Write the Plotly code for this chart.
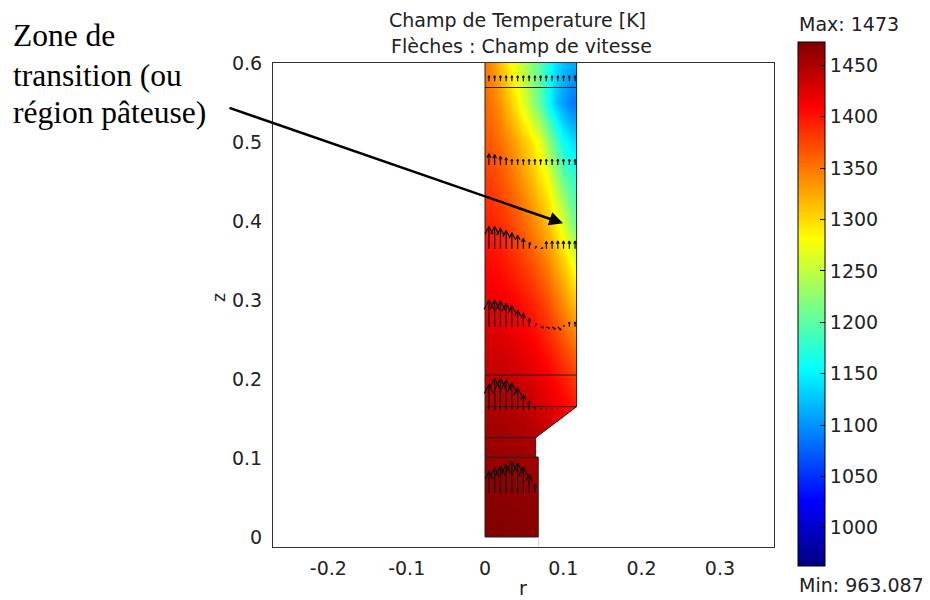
import math
import plotly.graph_objects as go

# ---------------- Temperature field [K] ----------------
r_levels = [0.0, 0.01, 0.02, 0.03, 0.04, 0.05, 0.06, 0.07, 0.08, 0.09, 0.10, 0.11, 0.117]
z_levels = [0.0, 0.05, 0.10, 0.15, 0.20, 0.25, 0.30, 0.35, 0.40, 0.45, 0.50, 0.55, 0.60]
T_z000 = [1473, 1473, 1473, 1472, 1472, 1471, 1470, 1469, 1467, 1465, 1462, 1460, 1458]
T_z005 = [1468, 1468, 1468, 1467, 1466, 1465, 1464, 1462, 1459, 1456, 1452, 1448, 1446]
T_z010 = [1462, 1462, 1461, 1460, 1459, 1457, 1455, 1452, 1448, 1443, 1438, 1433, 1430]
T_z015 = [1453, 1453, 1452, 1451, 1449, 1446, 1442, 1437, 1431, 1424, 1416, 1408, 1403]
T_z020 = [1442, 1441, 1440, 1438, 1435, 1431, 1426, 1420, 1413, 1405, 1396, 1386, 1378]
T_z025 = [1430, 1429, 1427, 1424, 1420, 1415, 1409, 1401, 1392, 1381, 1368, 1354, 1345]
T_z030 = [1418, 1417, 1414, 1410, 1405, 1398, 1390, 1380, 1368, 1353, 1336, 1318, 1306]
T_z035 = [1405, 1403, 1399, 1393, 1386, 1377, 1367, 1355, 1341, 1325, 1306, 1282, 1262]
T_z040 = [1393, 1390, 1385, 1377, 1367, 1355, 1342, 1327, 1310, 1290, 1260, 1222, 1205]
T_z045 = [1380, 1376, 1368, 1358, 1346, 1332, 1316, 1299, 1280, 1245, 1210, 1188, 1180]
T_z050 = [1368, 1362, 1352, 1340, 1326, 1310, 1293, 1270, 1230, 1195, 1160, 1142, 1138]
T_z055 = [1358, 1347, 1332, 1313, 1291, 1265, 1232, 1200, 1160, 1128, 1105, 1090, 1085]
T_z060 = [1350, 1333, 1311, 1290, 1268, 1245, 1222, 1197, 1168, 1142, 1125, 1113, 1110]
temperature = [T_z000, T_z005, T_z010, T_z015, T_z020, T_z025, T_z030,
               T_z035, T_z040, T_z045, T_z050, T_z055, T_z060]
T_min, T_max = 963.087, 1473
cbar_ticks = [1000, 1050, 1100, 1150, 1200, 1250, 1300, 1350, 1400, 1450]

# ---------------- Domain geometry (r, z in m) ----------------
outline_r = [0.0, 0.068, 0.068, 0.0647, 0.0647, 0.117, 0.117]
outline_z = [0.0, 0.0, 0.101, 0.101, 0.1257, 0.165, 0.60]
interface_z = [0.101, 0.1257, 0.165, 0.205, 0.569]
interface_w = [0.068, 0.0647, 0.117, 0.117, 0.117]

# ---------------- Velocity arrows (scaled lengths, m) ----------------
arrow_r = [0.005, 0.0123, 0.0197, 0.027, 0.0343, 0.0417, 0.049, 0.0563,
           0.0637, 0.071, 0.0783, 0.0857, 0.093, 0.1003, 0.1077, 0.115]
row_z = [0.577, 0.471, 0.365, 0.266, 0.161, 0.0557]
uz_row1 = [0.0068, 0.0068, 0.0068, 0.0068, 0.0068, 0.0068, 0.0068, 0.0068,
           0.0068, 0.0068, 0.0068, 0.0068, 0.0068, 0.0068, 0.0068, 0.0068]
uz_row2 = [0.014, 0.013, 0.011, 0.009, 0.007, 0.007, 0.0072, 0.0072,
           0.0072, 0.0072, 0.0072, 0.0072, 0.0072, 0.0072, 0.0072, 0.0072]
uz_row3 = [0.028, 0.028, 0.026, 0.023, 0.020, 0.017, 0.013, 0.008,
           0.003, 0.001, 0.009, 0.0095, 0.0095, 0.0095, 0.0095, 0.0095]
uz_row4 = [0.034, 0.034, 0.033, 0.030, 0.027, 0.021, 0.017, 0.011,
           0.004, -0.001, -0.002, -0.003, -0.004, 0.002, 0.006, 0.006]
uz_row5 = [0.032, 0.040, 0.040, 0.038, 0.034, 0.028, 0.019, 0.011,
           0.004, 0.0015, 0.0012, 0.001, 0.001, 0.0008, None, None]
uz_row6 = [0.027, 0.032, 0.034, 0.036, 0.040, 0.038, 0.033, 0.023,
           0.011, None, None, None, None, None, None, None]
ur_zero = [0.0] * 16
ur_row3 = [0, 0, 0, 0, 0, 0, 0, 0.001, 0.002, 0.003, 0, 0, 0, 0, 0, 0]
ur_row4 = [0, 0, 0, 0, 0, 0, 0, 0, 0.002, 0.004, 0.004, 0.004, 0.004, 0.001, 0, 0]
arrow_rows = [(row_z[0], uz_row1, ur_zero), (row_z[1], uz_row2, ur_zero),
              (row_z[2], uz_row3, ur_row3), (row_z[3], uz_row4, ur_row4),
              (row_z[4], uz_row5, ur_zero), (row_z[5], uz_row6, ur_zero)]

# ---------------- Layout constants ----------------
# the page adds an 8 px body margin, so the figure is drawn 8 px smaller / offset
OFF = 8
W, H = 930 - OFF, 600 - OFF
# plot box in reference-picture pixels
RL, RR, RT, RB = 273, 774, 63, 547
PL, PR, PT, PB = RL - OFF, RR - OFF, RT - OFF, RB - OFF
FONT = "DejaVu Sans"


def px(x_ref):
    return (x_ref - RL) / (RR - RL)


def py(y_ref):
    return (RB - y_ref) / (RB - RT)


fig = go.Figure()

# temperature surface
fig.add_trace(go.Heatmap(
    x=r_levels, y=z_levels, z=temperature, zsmooth="best",
    zmin=T_min, zmax=T_max,
    colorscale=[[0, "rgb(0,0,128)"], [0.125, "rgb(0,0,255)"], [0.375, "rgb(0,255,255)"],
                [0.625, "rgb(255,255,0)"], [0.875, "rgb(255,0,0)"], [1, "rgb(128,0,0)"]],
    colorbar=dict(
        x=px(798), xanchor="left", xpad=0,
        y=py(41.7), yanchor="top", ypad=0,
        len=524, lenmode="pixels", thickness=27, thicknessmode="pixels",
        outlinecolor="black", outlinewidth=1,
        tickvals=cbar_ticks, ticktext=[str(v) for v in cbar_ticks],
        ticks="inside", ticklen=5, tickcolor="black",
        tickfont=dict(family=FONT, size=19, color="#222"),
    ),
    hoverinfo="skip",
))

# white masks outside the computational domain
big = 0.05
mask_right_r = outline_r[1:] + [outline_r[-1], outline_r[-1] + big, outline_r[-1] + big, outline_r[1]]
mask_right_z = outline_z[1:] + [outline_z[-1] + big, outline_z[-1] + big, -big, -big]
fig.add_trace(go.Scatter(x=mask_right_r, y=mask_right_z, fill="toself", fillcolor="white",
                         mode="lines", line=dict(width=0, color="white"), hoverinfo="skip",
                         showlegend=False))
mask_left_r = [-big, outline_r[0], outline_r[0], outline_r[1], outline_r[1], -big]
mask_left_z = [outline_z[-1] + big, outline_z[-1] + big, outline_z[0], outline_z[1], -big, -big]
fig.add_trace(go.Scatter(x=mask_left_r, y=mask_left_z, fill="toself", fillcolor="white",
                         mode="lines", line=dict(width=0, color="white"), hoverinfo="skip",
                         showlegend=False))

# domain outline and internal boundaries
lr, lz = [], []
lr += [outline_r[0]] + outline_r + [None]
lz += [outline_z[-1]] + outline_z + [None]
for zi, wi in zip(interface_z, interface_w):
    lr += [0.0, wi, None]
    lz += [zi, zi, None]
fig.add_trace(go.Scatter(x=lr, y=lz, mode="lines", line=dict(color="#222", width=1),
                         hoverinfo="skip", showlegend=False))

# velocity arrows
HEAD_LEN, HEAD_HALF = 0.35, 0.18
ar, az = [], []
for z0, uz, ur in arrow_rows:
    for r0, w, u in zip(arrow_r, uz, ur):
        if w is None:
            continue
        L = math.hypot(u, w)
        dr, dz = u / L, w / L
        tr, tz = r0 + u, z0 + w
        ar += [r0, tr, None]
        az += [z0, tz, None]
        br, bz = tr - HEAD_LEN * L * dr, tz - HEAD_LEN * L * dz
        nr, nz = -dz, dr
        ar += [br + HEAD_HALF * L * nr, tr, br - HEAD_HALF * L * nr, None]
        az += [bz + HEAD_HALF * L * nz, tz, bz - HEAD_HALF * L * nz, None]
fig.add_trace(go.Scatter(x=ar, y=az, mode="lines", line=dict(color="#111", width=1.25),
                         hoverinfo="skip", showlegend=False))

x_ticks = [-0.2, -0.1, 0, 0.1, 0.2, 0.3]
y_ticks = [0, 0.1, 0.2, 0.3, 0.4, 0.5, 0.6]

fig.update_layout(
    width=W, height=H,
    margin=dict(l=PL, r=W - PR, t=PT, b=H - PB, pad=0, autoexpand=False),
    paper_bgcolor="white", plot_bgcolor="white",
    showlegend=False,
    xaxis=dict(range=[(RL - 485) / 783, (RR - 485) / 783], showgrid=False, zeroline=False,
               showline=True, mirror=True, linecolor="#333", linewidth=1,
               tickvals=x_ticks, ticktext=[f"{v:g}" for v in x_ticks], ticks="",
               ticklabelstandoff=4, tickfont=dict(family=FONT, size=19, color="#222")),
    yaxis=dict(range=[-(RB - 537) / 790, 0.6], showgrid=False, zeroline=False,
               showline=True, mirror=True, linecolor="#333", linewidth=1,
               tickvals=y_ticks, ticktext=[f"{v:g}" for v in y_ticks], ticks="",
               ticklabelstandoff=6, tickfont=dict(family=FONT, size=19, color="#222")),
)

ann = []
ann.append(dict(text="Champ de Temperature [K]", x=px(517), y=py(20), xref="paper", yref="paper",
                xanchor="center", yanchor="middle", showarrow=False,
                font=dict(family=FONT, size=19, color="#222")))
ann.append(dict(text="Flèches : Champ de vitesse", x=px(521), y=py(46), xref="paper", yref="paper",
                xanchor="center", yanchor="middle", showarrow=False,
                font=dict(family=FONT, size=19, color="#222")))
ann.append(dict(text="Max: 1473", x=px(797), y=py(24), xref="paper", yref="paper",
                xanchor="left", yanchor="middle", showarrow=False,
                font=dict(family=FONT, size=19, color="#222")))
ann.append(dict(text="Min: 963.087", x=px(797), y=py(585), xref="paper", yref="paper",
                xanchor="left", yanchor="middle", showarrow=False,
                font=dict(family=FONT, size=19, color="#222")))
ann.append(dict(text="r", x=px(523), y=py(588), xref="paper", yref="paper",
                xanchor="center", yanchor="middle", showarrow=False,
                font=dict(family=FONT, size=19, color="#222")))
ann.append(dict(text="z", x=px(219), y=py(298), xref="paper", yref="paper", textangle=-90,
                xanchor="center", yanchor="middle", showarrow=False,
                font=dict(family=FONT, size=17, color="#222")))
for txt, yc in [("Zone de", 36), ("transition (ou", 75), ("région pâteuse)", 112)]:
    ann.append(dict(text=txt, x=px(11), y=py(yc), xref="paper", yref="paper",
                    xanchor="left", yanchor="middle", showarrow=False,
                    font=dict(family="Liberation Serif", size=31.5, color="black")))
# pointer arrow to the mushy zone
ann.append(dict(text="", x=0.0996, y=0.397, xref="x", yref="y", showarrow=True,
                ax=-335, ay=-116, axref="pixel", ayref="pixel",
                arrowhead=2, arrowsize=1.1, arrowwidth=2.5, arrowcolor="black"))
fig.update_layout(annotations=ann)

fig.write_html("out.html")
